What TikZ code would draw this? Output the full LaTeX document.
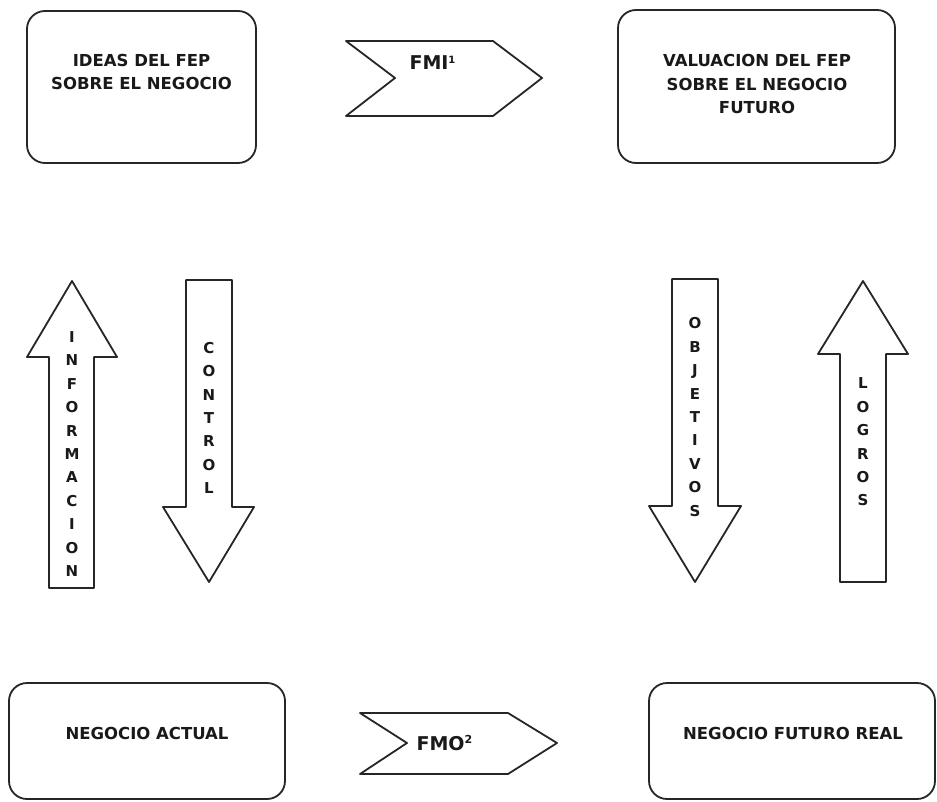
\documentclass[tikz,border=0pt]{standalone}
\usepackage{fontspec}
\setmainfont{DejaVu Sans}
\begin{document}
\begin{tikzpicture}[x=1pt,y=-1pt,
  shp/.style={draw=black!85, line width=1.8pt, line join=round, fill=white},
  box/.style={shp, rectangle, rounded corners=18pt, inner sep=0pt},
  txt/.style={align=center, font=\fontsize{16.5}{23.5}\selectfont\bfseries, text=black!90},
  ctxt/.style={font=\fontsize{19}{23}\selectfont\bfseries, text=black!90},
  vtxt/.style={align=center, font=\fontsize{15}{23.4}\selectfont\bfseries, text=black!90, inner sep=0pt}
]
\useasboundingbox (0,0) rectangle (937,802);

% boxes
\node[box, minimum width=229pt, minimum height=152pt] (ideas) at (141.5,87) {};
\node[txt] (ideasT) at (141.5,72) {IDEAS DEL FEP\\SOBRE EL NEGOCIO};

\node[box, minimum width=277pt, minimum height=153pt] (valu) at (756.5,86.5) {};
\node[txt] (valuT) at (757,84) {VALUACION DEL FEP\\SOBRE EL NEGOCIO\\FUTURO};

\node[box, minimum width=276pt, minimum height=116pt] (actual) at (147,741) {};
\node[txt] (actualT) at (147,733) {NEGOCIO ACTUAL};

\node[box, minimum width=286pt, minimum height=116pt] (real) at (792,741) {};
\node[txt] (realT) at (793,733) {NEGOCIO FUTURO REAL};

% chevrons
\draw[shp] (346,41) -- (493,41) -- (542,78) -- (493,116) -- (346,116) -- (395,78) -- cycle;
\node[ctxt, anchor=west] (fmi) at (406,63) {FMI\textsuperscript{\fontsize{10}{10}\selectfont 1}};

\draw[shp] (360,713) -- (508,713) -- (557,743) -- (508,774) -- (360,774) -- (407,743) -- cycle;
\node[ctxt, anchor=west] (fmo) at (413,743) {FMO\textsuperscript{\fontsize{11}{11}\selectfont 2}};

% vertical block arrows
\draw[shp] (49,588) -- (94,588) -- (94,357) -- (117,357) -- (72,281) -- (27,357) -- (49,357) -- cycle;
\node[vtxt] (info) at (72,454) {I\\N\\F\\O\\R\\M\\A\\C\\I\\O\\N};

\draw[shp] (186,280) -- (232,280) -- (232,507) -- (254,507) -- (209,582) -- (163,507) -- (186,507) -- cycle;
\node[vtxt] (ctrl) at (209,418) {C\\O\\N\\T\\R\\O\\L};

\draw[shp] (672,279) -- (718,279) -- (718,506) -- (741,506) -- (695,582) -- (649,506) -- (672,506) -- cycle;
\node[vtxt] (obj) at (695,417) {O\\B\\J\\E\\T\\I\\V\\O\\S};

\draw[shp] (840,582) -- (886,582) -- (886,354) -- (908,354) -- (863,281) -- (818,354) -- (840,354) -- cycle;
\node[vtxt] (logros) at (863,442) {L\\O\\G\\R\\O\\S};
\end{tikzpicture}
\end{document}
